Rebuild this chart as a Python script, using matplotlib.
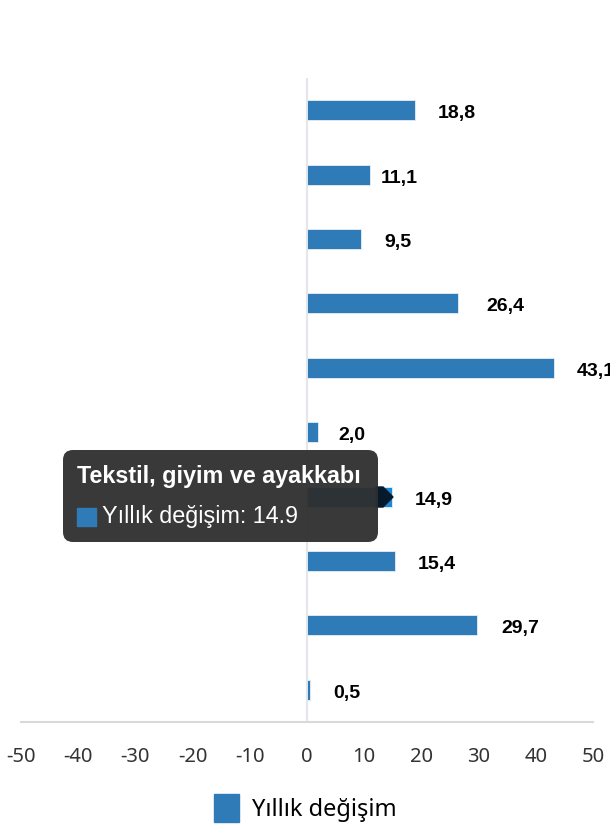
import matplotlib.pyplot as plt
from matplotlib.patches import FancyBboxPatch, Polygon, Rectangle

# data (top to bottom)
values = [18.8, 11.1, 9.5, 26.4, 43.1, 2.0, 14.9, 15.4, 29.7, 0.5]
labels = ['18,8', '11,1', '9,5', '26,4', '43,1', '2,0', '14,9', '15,4', '29,7', '0,5']
ticks = [-50, -40, -30, -20, -10, 0, 10, 20, 30, 40, 50]
series_name = 'Yıllık değişim'
hover_title = 'Tekstil, giyim ve ayakkabı'
hover_index = 6

bar_color = '#2f7bb7'
hover_color = '#1f86d6'

fig = plt.figure(figsize=(6.1, 8.4), dpi=100)
ax = fig.add_axes([21 / 610, 1 - 722 / 840, 572 / 610, 644 / 840])

ypos = list(range(len(values)))
colors = [hover_color if i == hover_index else bar_color for i in ypos]
ax.barh(ypos, values, height=0.31, color=colors, edgecolor='#e8eef5', linewidth=0.6, zorder=3)

ax.set_xlim(-50, 50)
ax.set_ylim(len(values) - 0.5, -0.5)
ax.set_xticks(ticks)
ax.set_xticklabels([str(t) for t in ticks], family='Noto Sans', fontsize=14.5, color='#333333')
ax.tick_params(axis='x', length=0, pad=18)
ax.set_yticks([])
for s in ['top', 'right', 'left']:
    ax.spines[s].set_visible(False)
ax.spines['bottom'].set_color('#d9d9d9')
ax.spines['bottom'].set_linewidth(1.5)
ax.axvline(0, color='#e3e6ea', linewidth=1.5, zorder=1)

# value labels (offsets in points)
nudge = [0, -9, 0, 4, 0, -2, 0, 0, 1, 0]
for i, (v, lab) in enumerate(zip(values, labels)):
    ax.annotate(lab, (v, i), xytext=(16.5 + nudge[i], -2.5), textcoords='offset points',
                ha='left', va='center', fontsize=14, fontweight='bold',
                family='Liberation Sans', color='black', annotation_clip=False, zorder=4)

# legend
handle = Rectangle((0, 0), 1, 1, color=bar_color)
fig.legend([handle], [series_name], loc='center', bbox_to_anchor=(0.5, 1 - 808 / 840),
           frameon=False, handlelength=1.05, handleheight=1.4, handletextpad=0.55,
           prop={'family': 'Noto Sans', 'size': 17})

# tooltip overlay in pixel coordinates
ov = fig.add_axes([0, 0, 1, 1], zorder=10)
ov.set_xlim(0, 610)
ov.set_ylim(840, 0)
ov.axis('off')
ov.patch.set_alpha(0)

ov.add_patch(Polygon([(376, 487), (383, 487), (393, 497), (383, 507), (376, 507)],
                     closed=True, color='#061a2b', zorder=1))
ov.add_patch(FancyBboxPatch((63, 450), 315, 92, boxstyle='round,pad=0,rounding_size=10',
                            facecolor='#2e2e2e', edgecolor='none', alpha=0.95, zorder=2))
ov.text(77, 476, hover_title, color='white', fontsize=16.8, fontweight='bold',
        family='Liberation Sans', va='center', ha='left', zorder=3)
ov.add_patch(Rectangle((77, 508), 19, 18, color=bar_color, zorder=3))
ov.text(102, 517, f'{series_name}: {values[hover_index]}', color='white', fontsize=16.8,
        family='Liberation Sans', va='center', ha='left', zorder=3)

fig.savefig('out.png', dpi=100)
